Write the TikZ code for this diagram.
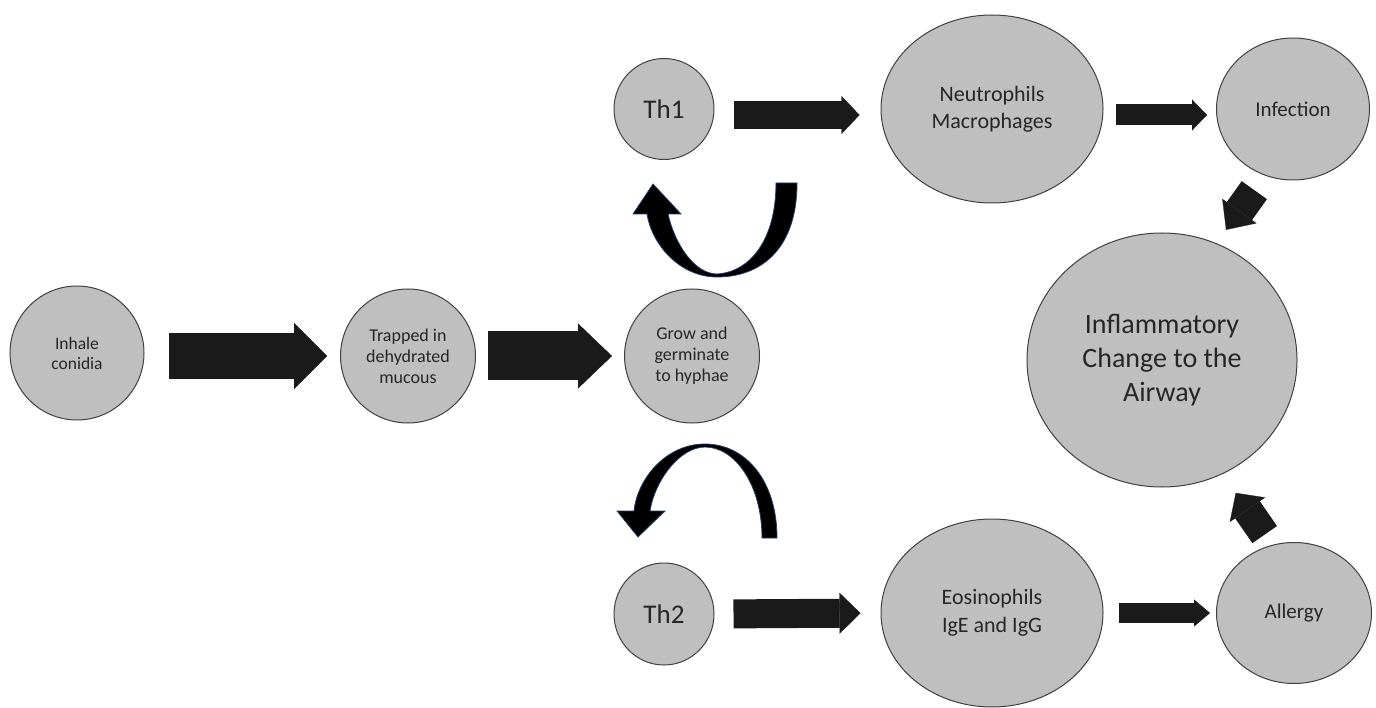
\documentclass[tikz,border=0pt]{standalone}
\usepackage{fontspec}
\setmainfont{Carlito}
\usetikzlibrary{shapes.geometric,arrows.meta}
\definecolor{cellgray}{RGB}{191,191,191}
\definecolor{cellline}{RGB}{64,64,64}
\definecolor{inkgray}{RGB}{38,38,38}
\definecolor{arrowfill}{RGB}{26,26,26}
\definecolor{curveedge}{RGB}{40,60,110}

\begin{document}
\begin{tikzpicture}[x=1pt,y=-1pt,
  cell/.style={ellipse,draw=cellline,fill=cellgray,line width=1pt,inner sep=0pt,align=center,text=inkgray},
  dims/.style 2 args={minimum width=#1,minimum height=#2},
  fs/.style 2 args={font=\fontsize{#1}{#2}\selectfont},
  blockarrow/.style n args={3}{draw=arrowfill,line width=#1,-{Triangle[width=#2,length=#3,line width=0.3pt]}},
  curvearrow/.style={fill=black,draw=curveedge,line width=0.8pt}]
 \useasboundingbox (0,0) rectangle (1376,708);
 \node[cell,dims={134pt}{134pt},fs={17.5pt}{20pt}] (inhale) at (77,353) {Inhale\\conidia};
 \node[cell,dims={135pt}{134pt},fs={18pt}{21pt}] (trapped) at (408,356) {Trapped in\\dehydrated\\mucous};
 \node[cell,dims={135pt}{134pt},fs={18pt}{21pt}] (grow) at (692,356) {Grow and\\germinate\\to hyphae};
 \node[cell,dims={100pt}{101pt},fs={27pt}{32pt}] (th1) at (664,109) {Th1};
 \node[cell,dims={222pt}{188pt},fs={22pt}{27pt}] (neutro) at (992,109) {Neutrophils\\Macrophages};
 \node[cell,dims={153pt}{142pt},fs={21pt}{25pt}] (infection) at (1293,109) {Infection};
 \node[cell,dims={270pt}{254pt},fs={28pt}{34pt}] (inflam) at (1162,360) {Inflammatory\\Change to the\\Airway};
 \node[cell,dims={100pt}{102pt},fs={27pt}{32pt}] (th2) at (664,614) {Th2};
 \node[cell,dims={222pt}{188pt},fs={22pt}{28pt}] (eos) at (992,613) {Eosinophils\\IgE and IgG};
 \node[cell,dims={155pt}{141pt},fs={21pt}{25pt}] (allergy) at (1294,613) {Allergy};

 \draw[blockarrow={46pt}{66pt}{33pt},shorten <=24pt,shorten >=13pt] (trapped.west -| inhale.east) -- (trapped.west);
 \draw[blockarrow={49pt}{65pt}{34pt},shorten <=12pt,shorten >=12pt] (trapped.east) -- (grow.west);
 \draw[blockarrow={28pt}{38pt}{18pt},shorten <=19pt,shorten >=21pt] ([yshift=-6pt]th1.east) -- ([yshift=-6pt]neutro.west);
 \draw[blockarrow={21pt}{31pt}{15pt},shorten <=12pt,shorten >=9pt] ([yshift=-6pt]neutro.east) -- ([yshift=-6pt]infection.west);
 \draw[blockarrow={29pt}{41pt}{21pt},shorten <=19pt,shorten >=20pt] (th2.east) -- (eos.west);
 \draw[blockarrow={20pt}{27pt}{16pt},shorten <=15pt,shorten >=6pt] (eos.east) -- (allergy.west);
 \draw[blockarrow={31pt}{42pt}{23pt},shorten <=18pt,shorten >=16.5pt] (infection.247.6) -- (inflam.65.5);
 \draw[blockarrow={30pt}{43pt}{20.5pt},shorten <=12.6pt,shorten >=23pt] (allergy.108.3) -- (inflam.298.9);

 \path[curvearrow] (797,183) .. controls (797,250) and (760,277) .. (717,277)
   .. controls (680,277) and (652,245) .. (647,214) -- (633,214) -- (653,184) -- (681,214) -- (668,214)
   .. controls (675,245) and (695,274) .. (717,274)
   .. controls (750,272) and (776,240) .. (776,183) -- cycle;
 \path[curvearrow] (777,538) .. controls (777,480) and (745,444) .. (705,444)
   .. controls (665,444) and (637,480) .. (634,511) -- (617,511) -- (638,537) -- (665,511) -- (650,511)
   .. controls (655,480) and (680,447) .. (705,447)
   .. controls (735,447) and (762,485) .. (762,538) -- cycle;
\end{tikzpicture}
\end{document}
